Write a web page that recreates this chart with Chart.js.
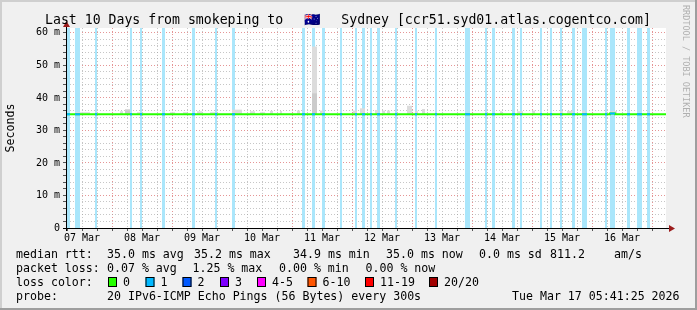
<!DOCTYPE html>
<html>
<head>
<meta charset="utf-8">
<title>smokeping - Sydney</title>
<script src="https://cdn.jsdelivr.net/npm/chart.js@4.4.1/dist/chart.umd.min.js"></script>
<style>
  body { margin: 0; background: #f0f0f0; }
  canvas { display: block; }
</style>
</head>
<body>
<canvas id="smokeChart" width="697" height="310"></canvas>
<script>
// x values are hours since the start of the graph (07 Mar ~05:36), 240 h = 10 days
var dayLabels = ['07 Mar','08 Mar','09 Mar','10 Mar','11 Mar','12 Mar','13 Mar','14 Mar','15 Mar','16 Mar'];
var dayNoon   = [6.4, 30.4, 54.4, 78.4, 102.4, 126.4, 150.4, 174.4, 198.4, 222.4];
var yTickValues = [0, 10, 20, 30, 40, 50, 60];
var yTickLabels = ['0', '10 m', '20 m', '30 m', '40 m', '50 m', '60 m'];
var yMax = 61.5;

// packet loss (1 of 20 lost) periods
var lossFrom = [0.4, 3.6, 11.6, 25.6, 29.6, 38.4, 50.4, 59.6, 66.4, 94.4, 98.4, 102.4, 109.6, 115.6, 118.4, 121.6, 124.4, 131.6, 139.6, 147.6, 159.6, 167.6, 170.4, 178.4, 181.6, 189.6, 193.6, 197.6, 202.4, 206.4, 215.6, 217.6, 224.4, 228.4, 232.4];
var lossTo   = [1.6, 5.6, 12.4, 26.4, 30.4, 39.6, 51.6, 60.4, 67.6, 95.6, 99.6, 103.6, 110.4, 116.4, 119.6, 122.4, 125.6, 132.4, 140.4, 148.4, 161.6, 168.4, 171.6, 179.6, 182.4, 190.4, 194.4, 198.4, 203.6, 208.4, 216.4, 219.6, 225.6, 230.4, 233.6];

// smoke (spread of the pings above the median), in ms
var smokeFrom = [3.6, 21.6, 23.6, 28.4, 41.6, 46.8, 52.4, 57.6, 66.4, 73.6, 77.6, 81.6, 85.6, 92.4, 98.4, 101.6, 114.8, 117.6, 123.6, 126.4, 128.4, 136.4, 139.6, 142.4, 173.6, 180.4, 186.4, 197.6, 200.4, 206.4, 217.6];
var smokeTo   = [9.6, 22.8, 25.6, 29.6, 43.6, 48.4, 54.4, 59.6, 70.4, 75.6, 79.6, 82.8, 86.4, 93.6, 100.4, 102.8, 116.4, 119.6, 124.8, 127.6, 129.6, 138.4, 140.8, 143.6, 174.4, 182.8, 187.6, 198.8, 202.8, 207.6, 220.4];
var smokeTop  = [35.6, 35.9, 36.6, 35.6, 35.6, 35.6, 35.9, 35.6, 36.4, 35.9, 35.6, 36.0, 36.0, 36.1, 55.8, 36.1, 36.1, 36.8, 36.3, 36.1, 36.1, 37.6, 35.9, 36.6, 35.9, 35.9, 36.1, 35.9, 36.0, 36.1, 36.0];
var denseFrom = [23.6, 98.4];
var denseTo   = [25.6, 100.4];
var denseTop  = [36.2, 41.4];

// median rtt, ms (held until next entry)
var medianTime = [0, 217.6, 219.6, 240];
var medianVal  = [35.0, 35.2, 35.0, 35.0];

var rttStats  = ['35.0 ms avg', '35.2 ms max', '34.9 ms min', '35.0 ms now', '0.0 ms sd', '811.2', 'am/s'];
var lossStats = ['0.07 % avg', '1.25 % max', '0.00 % min', '0.00 % now'];
var lossColorLabels = ['0', '1', '2', '3', '4-5', '6-10', '11-19', '20/20'];
var lossColors = ['#26ff00', '#00b8ff', '#0059ff', '#7e00ff', '#ff00ff', '#ff5500', '#ff0000', '#a10000'];

var FONT = 'DejaVu Sans Mono';

function boxes(from, to, top) {
	var pts = [];
	for (var i = 0; i < from.length; i++) {
		var t = Array.isArray(top) ? top[i] : top;
		pts.push({x: from[i], y: t}, {x: to[i], y: t}, {x: to[i], y: null});
	}
	return pts;
}

function medianAt(h) {
	var v = medianVal[0];
	for (var i = 0; i < medianTime.length; i++) {
		if (medianTime[i] <= h) v = medianVal[i];
	}
	return v;
}

var medianPts = medianTime.map(function(t, i) { return {x: t, y: medianVal[i]}; });
var lossMedianPts = [];
for (var i = 0; i < lossFrom.length; i++) {
	var m = medianAt(lossFrom[i]);
	lossMedianPts.push({x: lossFrom[i], y: m}, {x: lossTo[i], y: m}, {x: lossTo[i], y: null});
}

var xTicks = [];
for (var h = 0.4; h < 240; h += 6) xTicks.push(Math.round(h * 10) / 10);

function noonIndex(v) {
	for (var i = 0; i < dayNoon.length; i++) {
		if (Math.abs(dayNoon[i] - v) < 0.05) return i;
	}
	return -1;
}
function isMidnight(v) {
	var r = ((v - 6.4) % 24 + 24) % 24;
	return Math.abs(r - 12) < 0.05;
}

var rrdDecor = {
	id: 'rrdDecor',
	beforeDraw: function(chart) {
		var c = chart.ctx, a = chart.chartArea, W = chart.width, H = chart.height;
		c.save();
		c.fillStyle = '#f0f0f0';
		c.fillRect(0, 0, W, H);
		c.fillStyle = '#cfcfcf';
		c.fillRect(0, 0, W, 2);
		c.fillRect(0, 0, 2, H);
		c.fillStyle = '#9e9e9e';
		c.fillRect(0, H - 2, W, 2);
		c.fillRect(W - 2, 0, 2, H);
		c.fillStyle = '#ffffff';
		c.fillRect(a.left, a.top, a.right - a.left, a.bottom - a.top);
		c.restore();
	},
	afterDraw: function(chart) {
		var c = chart.ctx, a = chart.chartArea;
		c.save();
		// axis extensions and arrows
		c.strokeStyle = '#000';
		c.lineWidth = 1;
		c.beginPath();
		c.moveTo(a.left + 0.5, a.bottom + 3);
		c.lineTo(a.left + 0.5, a.top - 3);
		c.moveTo(a.left - 3, a.bottom + 0.5);
		c.lineTo(a.right + 4, a.bottom + 0.5);
		c.stroke();
		c.fillStyle = '#9b1c1c';
		c.beginPath();
		c.moveTo(a.left + 0.5, a.top - 7);
		c.lineTo(a.left - 3, a.top - 1);
		c.lineTo(a.left + 4, a.top - 1);
		c.closePath();
		c.fill();
		c.beginPath();
		c.moveTo(a.right + 9, a.bottom + 0.5);
		c.lineTo(a.right + 3, a.bottom - 3);
		c.lineTo(a.right + 3, a.bottom + 4);
		c.closePath();
		c.fill();

		// title, in three pieces so the flag sits where the reference has it
		c.fillStyle = '#000';
		c.font = '13.2px "' + FONT + '"';
		c.textBaseline = 'alphabetic';
		c.textAlign = 'left';
		c.fillText('Last 10 Days from smokeping to', 45, 24);
		c.textAlign = 'center';
		c.fillText('\uD83C\uDDE6\uD83C\uDDFA', 312, 24);
		c.textAlign = 'right';
		c.fillText('Sydney [ccr51.syd01.atlas.cogentco.com]', 651, 24);

		// legend block
		c.font = '11.6px "' + FONT + '"';
		c.textAlign = 'left';
		c.fillText('median rtt:', 16, 258);
		var rx = [107, 194, 293, 386, 479, 550, 614];
		rttStats.forEach(function(s, i) { c.fillText(s, rx[i], 258); });
		c.fillText('packet loss:', 16, 272);
		var lx = [107, 192.5, 279, 365.5];
		lossStats.forEach(function(s, i) { c.fillText(s, lx[i], 272); });
		c.fillText('loss color:', 16, 286);
		var sx = [108, 145.5, 182.5, 220, 257, 307.5, 365, 429];
		lossColorLabels.forEach(function(s, i) {
			c.fillStyle = lossColors[i];
			c.fillRect(sx[i], 277, 9, 10);
			c.strokeStyle = '#000';
			c.strokeRect(sx[i] + 0.5, 277.5, 8, 9);
			c.fillStyle = '#000';
			c.fillText(s, sx[i] + 15, 286);
		});
		c.fillText('probe:', 16, 300);
		c.fillText('20 IPv6-ICMP Echo Pings (56 Bytes) every 300s', 107, 300);
		c.fillText('Tue Mar 17 05:41:25 2026', 512, 300);

		// watermark
		c.translate(685, 5);
		c.rotate(Math.PI / 2);
		c.font = '8.5px "' + FONT + '"';
		c.fillStyle = '#b0b0b0';
		c.textBaseline = 'middle';
		c.fillText('RRDTOOL / TOBI OETIKER', 0, 0);
		c.restore();
	}
};

var ctx = document.getElementById('smokeChart').getContext('2d');
var smokeChart = new Chart(ctx, {
	type: 'line',
	data: {
		datasets: [{
			label: 'median loss',
			data: lossMedianPts,
			borderColor: lossColors[1],
			borderWidth: 2,
			pointRadius: 0,
			fill: false
		}, {
			label: 'median',
			data: medianPts,
			borderColor: lossColors[0],
			borderWidth: 2,
			pointRadius: 0,
			stepped: true,
			fill: false
		}, {
			label: 'smoke dense',
			data: boxes(denseFrom, denseTo, denseTop),
			borderWidth: 0,
			borderColor: 'rgba(0,0,0,0)',
			backgroundColor: '#cbcbcb',
			pointRadius: 0,
			fill: {value: 35}
		}, {
			label: 'smoke',
			data: boxes(smokeFrom, smokeTo, smokeTop),
			borderWidth: 0,
			borderColor: 'rgba(0,0,0,0)',
			backgroundColor: '#dcdcdc',
			pointRadius: 0,
			fill: {value: 35}
		}, {
			label: 'loss',
			data: boxes(lossFrom, lossTo, yMax),
			borderWidth: 0,
			borderColor: 'rgba(0,0,0,0)',
			backgroundColor: '#aae6fb',
			pointRadius: 0,
			fill: 'origin'
		}]
	},
	options: {
		responsive: false,
		animation: false,
		events: [],
		layout: {padding: {left: 0, top: 28, right: 31, bottom: 62}},
		plugins: {legend: {display: false}, tooltip: {enabled: false}},
		scales: {
			x: {
				type: 'linear',
				min: 0,
				max: 240,
				afterBuildTicks: function(scale) {
					scale.ticks = xTicks.map(function(v) { return {value: v}; });
				},
				afterFit: function(scale) { scale.height = 20; },
				grid: {
					color: function(c) {
						return isMidnight(c.tick.value) ? 'rgba(225,130,130,0.85)' : 'rgba(160,160,160,0.6)';
					},
					tickColor: '#555',
					tickLength: 3,
					lineWidth: 1
				},
				border: {display: true, color: '#000', dash: [1, 2]},
				ticks: {
					autoSkip: false,
					maxRotation: 0,
					padding: 1,
					color: '#000',
					font: {family: FONT, size: 10},
					callback: function(v) {
						var k = noonIndex(v);
						return k >= 0 ? dayLabels[k] : '';
					}
				}
			},
			y: {
				type: 'linear',
				min: 0,
				max: yMax,
				afterBuildTicks: function(scale) {
					var t = [];
					for (var v = 0; v <= 60; v += 2) t.push({value: v});
					scale.ticks = t;
				},
				afterFit: function(scale) { scale.width = 66; },
				grid: {
					color: function(c) {
						return c.tick.value % 10 === 0 ? 'rgba(225,130,130,0.85)' : 'rgba(160,160,160,0.6)';
					},
					tickColor: '#555',
					tickLength: 3,
					lineWidth: 1
				},
				border: {display: true, color: '#000', dash: [1, 2]},
				title: {
					display: true,
					text: 'Seconds',
					color: '#000',
					font: {family: FONT, size: 11.6},
					padding: {top: 4, bottom: 0}
				},
				ticks: {
					autoSkip: false,
					padding: 3,
					color: '#000',
					font: {family: FONT, size: 10},
					callback: function(v) {
						var k = yTickValues.indexOf(v);
						return k >= 0 ? yTickLabels[k] : '';
					}
				}
			}
		}
	},
	plugins: [rrdDecor]
});
</script>
</body>
</html>
